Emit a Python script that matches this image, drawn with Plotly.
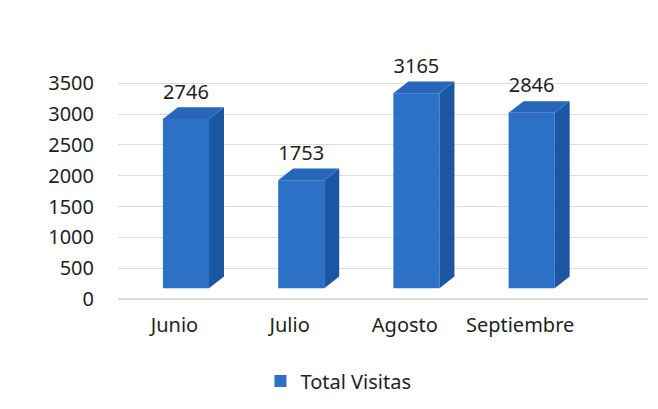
import plotly.graph_objects as go

categories = ["Junio", "Julio", "Agosto", "Septiembre"]
visitas = [2746, 1753, 3165, 2846]
y_ticks = [0, 500, 1000, 1500, 2000, 2500, 3000, 3500]
series_name = "Total Visitas"

# style constants (pseudo-3D look)
BAR_W = 0.40
DEPTH_X = 0.13
DEPTH_Y = 190
FLOOR = 175
LABEL_PAD = 60
LABEL_SHIFT = 0.10
Y_MAX = 3700
FRONT = "#2C71C6"
SIDE = "#1B56A3"
TOP = "#2766B8"
FONT = "Noto Sans"
TXT = "#1f1f1f"

xs = list(range(len(categories)))

side_x, side_y, top_x, top_y = [], [], [], []
for x, v in zip(xs, visitas):
    r = x + BAR_W / 2
    l = x - BAR_W / 2
    t = FLOOR + v
    side_x += [r, r + DEPTH_X, r + DEPTH_X, r, r, None]
    side_y += [FLOOR, FLOOR + DEPTH_Y, t + DEPTH_Y, t, FLOOR, None]
    top_x += [l, r, r + DEPTH_X, l + DEPTH_X, l, None]
    top_y += [t, t, t + DEPTH_Y, t + DEPTH_Y, t, None]

fig = go.Figure()
fig.add_trace(go.Bar(x=xs, y=visitas, base=FLOOR, width=BAR_W, name=series_name,
                     marker=dict(color=FRONT, line=dict(width=0)),
                     showlegend=True))
fig.add_trace(go.Scatter(x=side_x, y=side_y, fill="toself", fillcolor=SIDE,
                         mode="lines", line=dict(width=0, color=SIDE),
                         showlegend=False, hoverinfo="skip"))
fig.add_trace(go.Scatter(x=top_x, y=top_y, fill="toself", fillcolor=TOP,
                         mode="lines", line=dict(width=0, color=TOP),
                         showlegend=False, hoverinfo="skip"))
fig.add_trace(go.Scatter(x=xs, y=[FLOOR + v + DEPTH_Y + LABEL_PAD for v in visitas],
                         mode="text", text=[str(v) for v in visitas],
                         textposition="top center",
                         textfont=dict(family=FONT, size=20, color=TXT),
                         showlegend=False, hoverinfo="skip", cliponaxis=False))

fig.update_layout(
    width=658, height=409,
    margin=dict(l=110, r=18, t=63, b=118),
    paper_bgcolor="white", plot_bgcolor="white",
    font=dict(family=FONT, size=20, color=TXT),
    bargap=0.5,
    legend=dict(orientation="h", x=0.416, xanchor="center", y=-0.36, yanchor="middle",
                font=dict(family=FONT, size=20, color=TXT), traceorder="normal"),
)
fig.update_xaxes(range=[-0.59, 4.01], tickvals=[x - LABEL_SHIFT for x in xs],
                 ticktext=categories, showgrid=False, zeroline=False, showline=False,
                 ticks="", ticklabelstandoff=12,
                 tickfont=dict(family=FONT, size=20, color=TXT))
fig.update_yaxes(range=[0, Y_MAX], tickvals=y_ticks, showgrid=True, gridcolor="#dcdcdc",
                 gridwidth=1, zeroline=True, zerolinecolor="#dcdcdc", showline=False,
                 ticks="", ticklabelstandoff=23,
                 tickfont=dict(family=FONT, size=20, color=TXT))

fig.write_html("out.html")
